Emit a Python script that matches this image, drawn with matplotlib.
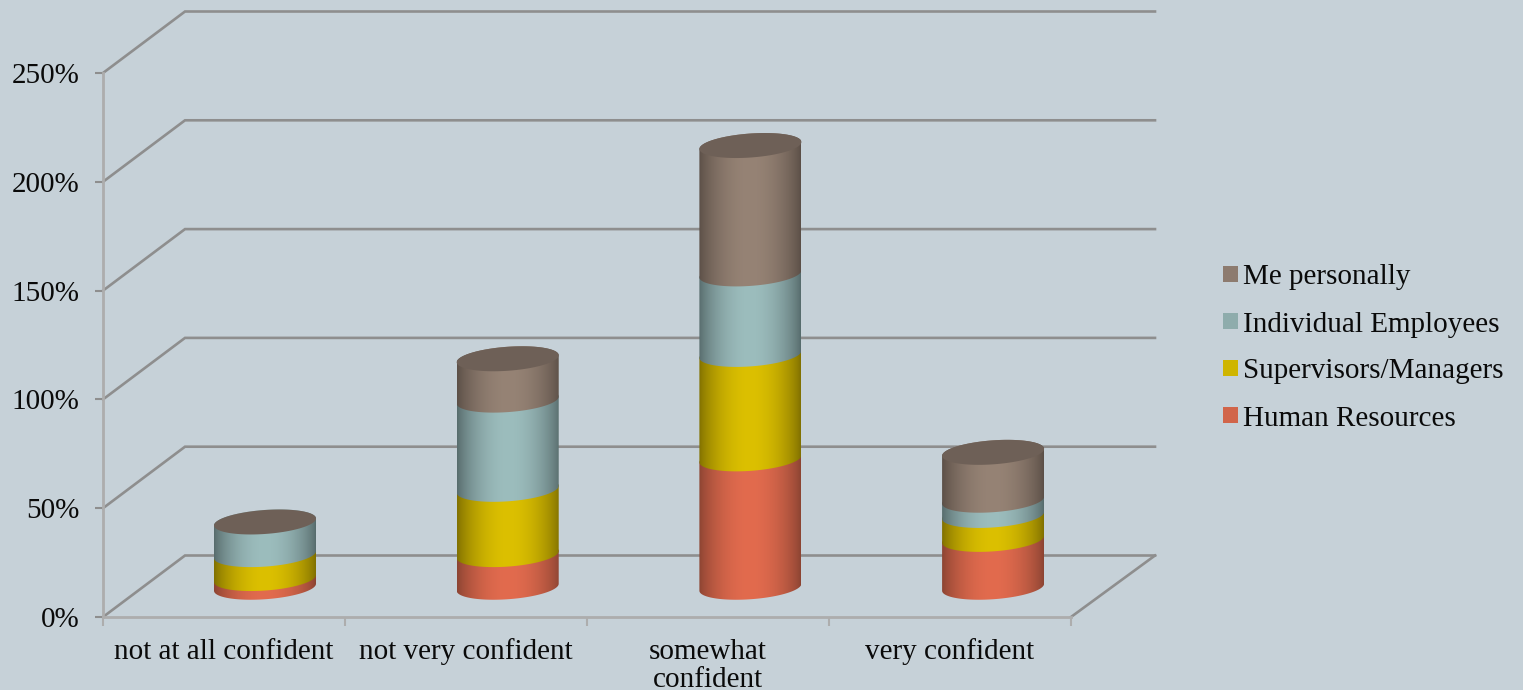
import numpy as np
import matplotlib
matplotlib.use("Agg")
import matplotlib.pyplot as plt
from matplotlib.patches import Patch, PathPatch
from matplotlib.path import Path

categories = ["not at all confident", "not very confident", "somewhat\nconfident", "very confident"]
yticks = [0, 50, 100, 150, 200, 250]
ytick_labels = ["0%", "50%", "100%", "150%", "200%", "250%"]

human_resources = [4, 15, 59, 22]
supervisors = [11, 30, 48, 11]
individual = [15, 41, 37, 7]
me_personally = [0, 19, 59, 22]

series_names = ["Human Resources", "Supervisors/Managers", "Individual Employees", "Me personally"]
series_values = [human_resources, supervisors, individual, me_personally]
center_colors = ["#e26b4e", "#dcc000", "#9cbdbd", "#968375"]
edge_colors = ["#8a4332", "#7f6f00", "#566a6b", "#5a4e46"]
legend_colors = ["#d1654a", "#cfb500", "#8eacac", "#8d7b6f"]
cap_color = "#6e6057"

bg = "#c6d1d8"
grid_color = "#8e8e8e"
axis_color = "#adadad"

plt.rcParams["font.family"] = ["Liberation Serif", "DejaVu Serif"]

fig = plt.figure(figsize=(15.23, 6.9), dpi=100, facecolor=bg)
ax = fig.add_axes([103 / 1523, 73 / 690, 968 / 1523, 544 / 690])
ax.patch.set_visible(False)
ax.set_xlim(0, 4)
ax.set_ylim(0, 250)
for s in ax.spines.values():
    s.set_visible(False)

# pixels to data units
px_x = 4 / 968
px_y = 250 / 544
depth_x = 82 * px_x
depth_y = 61.5 * px_y
right_end = 4 + 84 * px_x

# back wall and side wall lines
for v in yticks:
    ax.plot([0, depth_x, right_end], [v, v + depth_y, v + depth_y], color=grid_color, lw=1.9,
            clip_on=False, zorder=1, solid_joinstyle="miter")
ax.plot([right_end, 4], [depth_y, 0], color=grid_color, lw=1.9, clip_on=False, zorder=1)
ax.plot([0, 4], [0, 0], color=axis_color, lw=2, clip_on=False, zorder=2)
ax.plot([0, 0], [0, 250], color=axis_color, lw=2, clip_on=False, zorder=2)

# ticks and labels
ax.set_yticks(yticks)
ax.set_yticklabels(ytick_labels, fontsize=21, color="#0a0a0a")
ax.tick_params(axis="y", length=6, width=1.5, color=grid_color, pad=11)
ax.set_xticks([0, 1, 2, 3, 4])
ax.set_xticklabels([])
ax.tick_params(axis="x", which="major", length=6.5, width=1.5, color=axis_color)
ax.set_xticks([0.5, 1.5, 2.5, 3.5], minor=True)
ax.set_xticklabels(categories, minor=True, fontsize=21, color="#0a0a0a", linespacing=1.12, va="top")
ax.tick_params(axis="x", which="minor", length=0, pad=15.5)

# cylinders
half_w = 51 * px_x
ell_b = 12 * px_y
ell_k = 3.5 * px_y
bar_step = 242.7 * px_x
bar_start = 265 * px_x - 103 * px_x


def ring(cx, y, t):
    return cx + half_w * np.cos(t), y + ell_k * np.cos(t) + ell_b * np.sin(t)


def shade(c_mid, c_edge):
    u = np.linspace(0, 1, 200)
    f = np.sin(np.pi * u) ** 0.75
    a = np.array(matplotlib.colors.to_rgb(c_mid))
    b = np.array(matplotlib.colors.to_rgb(c_edge))
    return (b[None, :] + (a - b)[None, :] * f[:, None])[None, :, :]


for i in range(len(categories)):
    cx = bar_start + i * bar_step
    base = depth_y / 2 - 1 * px_y
    for values, c_mid, c_edge in zip(series_values, center_colors, edge_colors):
        v = values[i]
        if v == 0:
            continue
        t_low = np.linspace(np.pi, 2 * np.pi, 80)
        t_up = np.linspace(0, np.pi, 80)
        x0, y0 = ring(cx, base, t_low)
        x1, y1 = ring(cx, base + v, t_up)
        verts = np.column_stack([np.r_[x0, x1, x0[0]], np.r_[y0, y1, y0[0]]])
        codes = [Path.MOVETO] + [Path.LINETO] * (len(verts) - 2) + [Path.CLOSEPOLY]
        clip = PathPatch(Path(verts, codes), transform=ax.transData, fc="none", ec="none")
        ax.add_patch(clip)
        im = ax.imshow(shade(c_mid, c_edge), extent=[cx - half_w, cx + half_w, 0, 250],
                       aspect="auto", zorder=3, interpolation="bilinear")
        im.set_clip_path(clip)
        base += v
    # top of the stack
    t = np.linspace(0, 2 * np.pi, 200)
    xc, yc = ring(cx, base, t)
    ax.fill(xc, yc, color=cap_color, zorder=4, lw=0)

ax.set_xlim(0, 4)
ax.set_ylim(0, 250)

# legend, reversed like the stack
handles = [Patch(facecolor=c, edgecolor="none") for c in legend_colors[::-1]]
fig.legend(handles, series_names[::-1], loc="center left", bbox_to_anchor=(1223 / 1523, 1 - 348 / 690),
           frameon=False, fontsize=21, labelcolor="#0a0a0a", handlelength=0.5, handleheight=0.5,
           handletextpad=0.2, labelspacing=0.72, borderpad=0, borderaxespad=0)

fig.savefig("out.png", dpi=100, facecolor=bg)
